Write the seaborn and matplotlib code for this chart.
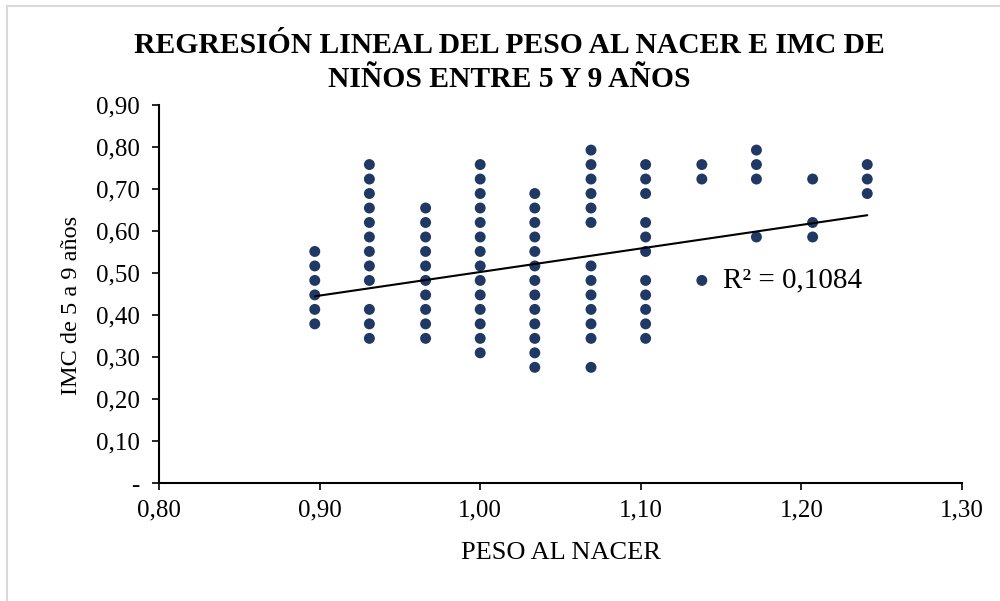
import numpy as np
import pandas as pd
import seaborn as sns
import matplotlib.pyplot as plt
from matplotlib.ticker import FuncFormatter
from matplotlib.patches import Rectangle

# valores en pasos de 1/29
peso_cols = [0.897, 0.931, 0.966, 1.000, 1.034, 1.069, 1.103, 1.138, 1.172, 1.207, 1.241]
imc_k = [
    [11, 12, 13, 14, 15, 16],
    [10, 11, 12, 14, 15, 16, 17, 18, 19, 20, 21, 22],
    [10, 11, 12, 13, 14, 15, 16, 17, 18, 19],
    [9, 10, 11, 12, 13, 14, 15, 16, 17, 18, 19, 20, 21, 22],
    [8, 9, 10, 11, 12, 13, 14, 15, 16, 17, 18, 19, 20],
    [8, 10, 11, 12, 13, 14, 15, 18, 19, 20, 21, 22, 23],
    [10, 11, 12, 13, 14, 16, 17, 18, 20, 21, 22],
    [14, 21, 22],
    [17, 21, 22, 23],
    [17, 18, 21],
    [20, 21, 22],
]
# linea de tendencia (Excel, datos completos)
trend_x = [0.897, 1.241]
trend_y = [0.445, 0.638]
r2_text = "R² = 0,1084"

peso = []
imc = []
for x, ks in zip(peso_cols, imc_k):
    for k in ks:
        peso.append(x)
        imc.append(k / 29)
df = pd.DataFrame({'peso': peso, 'imc': imc})

sns.set_style('white')
plt.rcParams['font.family'] = ['Liberation Serif', 'DejaVu Serif']
plt.rcParams['text.color'] = 'black'
plt.rcParams['axes.labelcolor'] = 'black'
plt.rcParams['xtick.color'] = 'black'
plt.rcParams['ytick.color'] = 'black'

fig = plt.figure(figsize=(10, 6.01), dpi=100)
ax = fig.add_axes([0.159, 0.196, 0.803, 0.629])

sns.scatterplot(data=df, x='peso', y='imc', color='#1F3864', s=62,
                edgecolor='none', ax=ax, zorder=3)
sns.lineplot(x=trend_x, y=trend_y, color='black', lw=1.5, ax=ax, zorder=4)

ax.set_xlim(0.8, 1.3)
ax.set_ylim(0, 0.9)
ax.set_xticks(np.arange(0.8, 1.31, 0.1))
ax.set_yticks(np.arange(0, 0.91, 0.1))
ax.xaxis.set_major_formatter(FuncFormatter(lambda v, p: f"{v:.2f}".replace('.', ',')))
ax.yaxis.set_major_formatter(FuncFormatter(
    lambda v, p: '-' if abs(v) < 1e-9 else f"{v:.2f}".replace('.', ',')))
ax.tick_params(axis='both', direction='out', length=5, width=1.2, color='black',
               labelsize=18, bottom=True, left=True)
ax.tick_params(axis='y', pad=9)
ax.tick_params(axis='x', pad=7)

for s in ['top', 'right']:
    ax.spines[s].set_visible(False)
for s in ['left', 'bottom']:
    ax.spines[s].set_color('black')
    ax.spines[s].set_linewidth(1.5)

ax.set_xlabel('PESO AL NACER', fontsize=19)
ax.set_ylabel('IMC de 5 a 9 años', fontsize=17.5)
ax.xaxis.set_label_coords(0.5, -0.155)
ax.yaxis.set_label_coords(-0.096, 0.47)

fig.text(0.509, 0.896, 'REGRESIÓN LINEAL DEL PESO AL NACER E IMC DE\nNIÑOS ENTRE 5 Y 9 AÑOS',
         ha='center', va='center', fontsize=21.3, fontweight='bold', linespacing=1.3)

ax.text(1.151, 0.483, r2_text, fontsize=21, ha='left', va='center')

# borde del area del grafico
fig.patches.append(Rectangle((0.007, -0.05), 1.1, 1.04, transform=fig.transFigure,
                             fill=False, edgecolor='#D9D9D9', lw=1.5))

fig.savefig('out.png', dpi=100)
